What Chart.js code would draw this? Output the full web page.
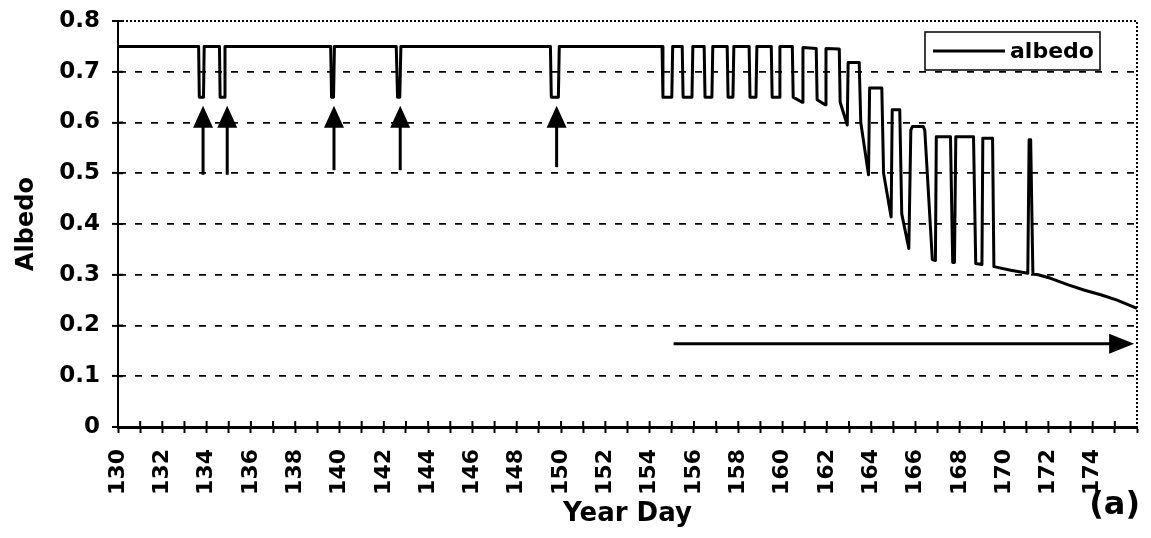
<!DOCTYPE html>
<html>
<head>
<meta charset="utf-8">
<script src="https://cdn.jsdelivr.net/npm/chart.js@4.4.1/dist/chart.umd.min.js"></script>
<style>
  html, body { margin: 0; padding: 0; background: #fff; }
  #albedoChart { display: block; }
</style>
</head>
<body>
<canvas id="albedoChart" width="1151" height="538"></canvas>
<script>
// albedo trace (year day / albedo pairs)
const yearDays = [
  130, 133.64, 133.67, 133.86, 133.89,
  134.58, 134.61, 134.80, 134.83,
  139.60, 139.64, 139.73, 139.77,
  142.56, 142.62, 142.72, 142.77,
  149.52, 149.56, 149.88, 149.92,
  154.56, 154.60, 155.00, 155.04, 155.47,
  155.51, 155.91, 155.95, 156.46,
  156.50, 156.81, 156.85, 157.50,
  157.54, 157.76, 157.80, 158.49,
  158.53, 158.80, 158.84, 159.49,
  159.53, 159.84, 159.88, 160.44,
  160.48, 160.88, 160.92, 161.52,
  161.56, 161.92, 161.96, 162.56,
  162.60, 162.92, 162.96, 163.46,
  163.53, 163.88, 163.93, 164.48,
  164.56, 164.90, 164.95, 165.29,
  165.38, 165.70, 165.79, 165.86, 166.35, 166.42,
  166.76, 166.90, 166.94, 167.58,
  167.68, 167.76, 167.82, 168.62,
  168.72, 169.00, 169.04, 169.48,
  169.54, 170.30, 171.07, 171.13, 171.20,
  171.30, 172.10, 172.90, 173.60, 174.40, 175.10, 176.00
]
const albedo = [
  0.75, 0.75, 0.65, 0.65, 0.75,
  0.75, 0.65, 0.65, 0.75,
  0.75, 0.65, 0.65, 0.75,
  0.75, 0.65, 0.65, 0.75,
  0.75, 0.65, 0.65, 0.75,
  0.75, 0.65, 0.65, 0.75, 0.75,
  0.65, 0.65, 0.75, 0.75,
  0.65, 0.65, 0.75, 0.75,
  0.65, 0.65, 0.75, 0.75,
  0.65, 0.65, 0.75, 0.75,
  0.65, 0.65, 0.75, 0.75,
  0.65, 0.64, 0.748, 0.746,
  0.645, 0.635, 0.746, 0.745,
  0.64, 0.595, 0.718, 0.718,
  0.60, 0.497, 0.668, 0.668,
  0.50, 0.414, 0.625, 0.625,
  0.42, 0.352, 0.585, 0.592, 0.592, 0.585,
  0.33, 0.328, 0.572, 0.572,
  0.324, 0.324, 0.572, 0.572,
  0.322, 0.32, 0.569, 0.569,
  0.316, 0.309, 0.303, 0.566, 0.566,
  0.303, 0.293, 0.28, 0.27, 0.26, 0.25, 0.234
]

const yTickLabels = ["0", "0.1", "0.2", "0.3", "0.4", "0.5", "0.6", "0.7", "0.8"]
const xLabelLast = 174

// upward arrows marking the snowfall events
const arrowDays = [133.84, 134.93, 139.75, 142.74, 149.8]
const arrowBottoms = [0.497, 0.497, 0.506, 0.506, 0.512]
const arrowTip = 0.633
// horizontal arrow (melt period)
const meltArrow = [155.08, 175.87]
const meltArrowLevel = 0.164

const FONT = "'DejaVu Sans', sans-serif"
Chart.defaults.font.family = FONT
Chart.defaults.color = "#000"

const decorations = {
  id: "decorations",
  beforeDatasetsDraw(chart) {
    const { ctx, chartArea: area, scales } = chart
    ctx.save()
    ctx.strokeStyle = "#000"
    // dotted top and right frame
    ctx.lineWidth = 2
    ctx.setLineDash([2, 2])
    ctx.beginPath()
    ctx.moveTo(area.left, area.top)
    ctx.lineTo(area.right, area.top)
    ctx.lineTo(area.right, area.bottom)
    ctx.stroke()
    ctx.setLineDash([])
    // inner halves of the tick marks
    ctx.lineWidth = 2
    for (let d = 131; d < 176; d++) {
      const x = scales.x.getPixelForValue(d)
      ctx.beginPath()
      ctx.moveTo(x, area.bottom)
      ctx.lineTo(x, area.bottom - 6)
      ctx.stroke()
    }
    yTickLabels.forEach((_, i) => {
      const y = scales.y.getPixelForValue(i / 10)
      ctx.beginPath()
      ctx.moveTo(area.left, y)
      ctx.lineTo(area.left + 5, y)
      ctx.stroke()
    })
    ctx.restore()
  },
  afterDraw(chart) {
    const { ctx, chartArea: area, scales } = chart
    ctx.save()
    ctx.fillStyle = "#000"
    ctx.strokeStyle = "#000"
    ctx.lineWidth = 3

    // up arrows
    const tipY = scales.y.getPixelForValue(arrowTip)
    arrowDays.forEach((d, i) => {
      const x = scales.x.getPixelForValue(d)
      const y0 = scales.y.getPixelForValue(arrowBottoms[i])
      ctx.beginPath()
      ctx.moveTo(x, y0)
      ctx.lineTo(x, tipY + 20)
      ctx.stroke()
      ctx.beginPath()
      ctx.moveTo(x, tipY)
      ctx.lineTo(x - 10, tipY + 22)
      ctx.lineTo(x + 10, tipY + 22)
      ctx.closePath()
      ctx.fill()
    })

    // horizontal arrow
    const hy = scales.y.getPixelForValue(meltArrowLevel)
    const hx0 = scales.x.getPixelForValue(meltArrow[0])
    const hx1 = scales.x.getPixelForValue(meltArrow[1])
    ctx.beginPath()
    ctx.moveTo(hx0, hy)
    ctx.lineTo(hx1 - 20, hy)
    ctx.stroke()
    ctx.beginPath()
    ctx.moveTo(hx1, hy)
    ctx.lineTo(hx1 - 25, hy - 10)
    ctx.lineTo(hx1 - 25, hy + 10)
    ctx.closePath()
    ctx.fill()

    // legend box
    const bx = area.right - 212
    const by = area.top + 11
    ctx.fillStyle = "#fff"
    ctx.fillRect(bx, by, 175, 38)
    ctx.lineWidth = 1.5
    ctx.strokeRect(bx, by, 175, 38)
    ctx.lineWidth = 3
    ctx.beginPath()
    ctx.moveTo(bx + 8, by + 19)
    ctx.lineTo(bx + 80, by + 19)
    ctx.stroke()
    ctx.fillStyle = "#000"
    ctx.font = "bold 22px " + FONT
    ctx.textBaseline = "middle"
    ctx.textAlign = "left"
    ctx.fillText("albedo", bx + 85, by + 20)

    // panel label
    ctx.font = "bold 32px " + FONT
    ctx.textAlign = "right"
    ctx.fillText("(a)", chart.width - 11, 506)
    ctx.restore()
  },
}

new Chart(document.getElementById("albedoChart"), {
  type: "line",
  data: {
    datasets: [
      {
        label: "albedo",
        data: yearDays.map((d, i) => ({ x: d, y: albedo[i] })),
        borderColor: "#000",
        borderWidth: 3,
        borderJoinStyle: "round",
        pointRadius: 0,
        tension: 0,
        fill: false,
      },
    ],
  },
  options: {
    responsive: false,
    animation: false,
    layout: { padding: { top: 21, right: 14, left: 0, bottom: 0 } },
    plugins: {
      legend: { display: false },
      tooltip: { enabled: false },
    },
    scales: {
      x: {
        type: "linear",
        min: 130,
        max: 176,
        afterFit: scale => {
          scale.height = 111
          scale.paddingLeft = 0
          scale.paddingRight = 0
        },
        ticks: {
          stepSize: 1,
          autoSkip: false,
          minRotation: 90,
          maxRotation: 90,
          padding: 16,
          font: { size: 22, weight: "bold" },
          callback: v => (v % 2 === 0 && v <= xLabelLast ? String(v) : ""),
        },
        grid: {
          drawOnChartArea: false,
          drawTicks: true,
          tickLength: 6,
          tickColor: "#000",
          tickWidth: 2,
        },
        border: { color: "#000", width: 3 },
        title: {
          display: true,
          text: "Year Day",
          font: { size: 26, weight: "bold" },
          padding: { top: 0, bottom: 8 },
        },
      },
      y: {
        min: 0,
        max: 0.8,
        afterFit: scale => {
          scale.width = 118
          scale.paddingTop = 0
          scale.paddingBottom = 0
        },
        ticks: {
          stepSize: 0.1,
          padding: 12,
          font: { size: 23, weight: "bold" },
          callback: (v, i) => yTickLabels[i],
        },
        grid: {
          color: "#000",
          lineWidth: ctx => (ctx.tick && (ctx.index === 0 || ctx.index === 8) ? 0 : 1.8),
          tickLength: 6,
          tickColor: "#000",
          tickWidth: 2,
        },
        border: { color: "#000", width: 2, dash: [7, 9] },
        title: {
          display: true,
          text: "Albedo",
          font: { size: 24, weight: "bold" },
          padding: { top: 12, bottom: 0 },
        },
      },
    },
  },
  plugins: [decorations],
})
</script>
</body>
</html>
